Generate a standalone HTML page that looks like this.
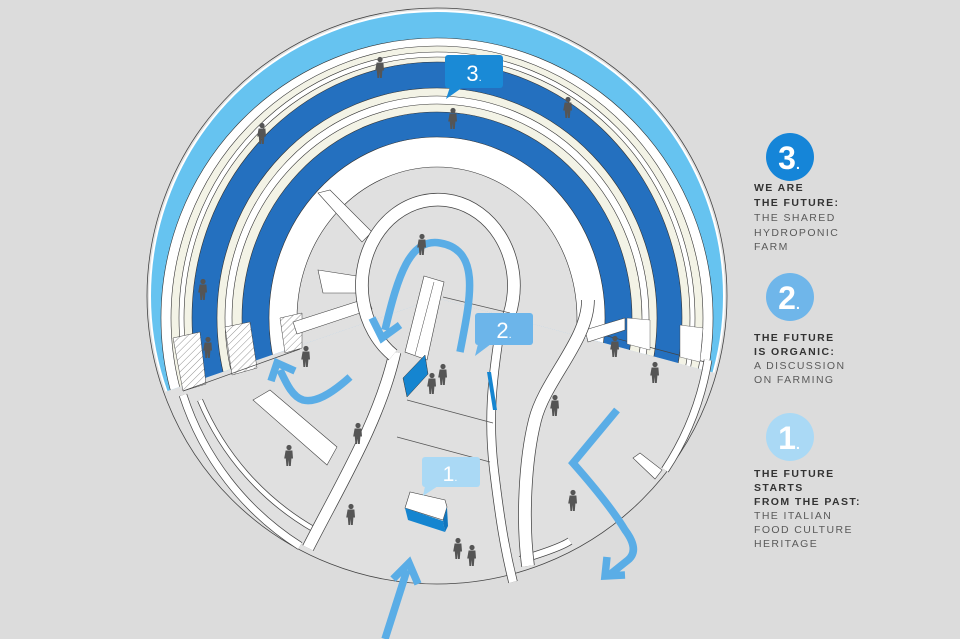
<!DOCTYPE html>
<html><head><meta charset="utf-8"><style>
html,body{margin:0;padding:0;background:#dcdcdc;}
svg{display:block;}
.lg{font-family:"Liberation Sans Narrow","Liberation Sans",sans-serif;font-size:10.5px;letter-spacing:1.4px;}
.b{fill:#333;font-weight:bold;}
.n{fill:#5a5a5a;}
.num{font-family:"Liberation Sans Narrow","Liberation Sans",sans-serif;fill:#fff;}
.big{font-weight:bold;}
</style></head><body>
<svg width="960" height="639" viewBox="0 0 960 639" xmlns="http://www.w3.org/2000/svg">
<defs>
<clipPath id="sec"><polygon points="437,298 830,404 830,-20 40,-20 40,435"/></clipPath>
<pattern id="hat" width="5" height="5" patternUnits="userSpaceOnUse" patternTransform="rotate(45)">
<rect width="5" height="5" fill="#fff"/><line x1="0" y1="0" x2="0" y2="5" stroke="#666" stroke-width="0.7"/></pattern>
<symbol id="p" viewBox="-6 -22 12 22" overflow="visible">
<circle cx="0" cy="-18.5" r="2.6" fill="#555"/>
<path d="M-3.4,-15.5 h6.8 l0.6,8 h-1.6 l-0.6,7.5 h-1.8 l-0.4,-6 l-0.4,6 h-1.8 l-0.6,-7.5 h-1.6z" fill="#555"/>
</symbol>
</defs>
<rect width="960" height="639" fill="#dcdcdc"/>

<ellipse cx="437" cy="296" rx="290" ry="288" fill="#e0e0e0" stroke="#444" stroke-width="0.8"/>

<g clip-path="url(#sec)" stroke="#333" stroke-width="0.6">
<ellipse cx="437" cy="296" rx="287" ry="285" fill="#66c3f0" stroke="#fff" stroke-width="2"/>
<ellipse cx="437" cy="318" rx="276" ry="280" fill="#fff"/>
<ellipse cx="437" cy="318" rx="266" ry="272" fill="#f3f3e6"/>
<ellipse cx="437" cy="318" rx="258" ry="266" fill="#fff"/>
<ellipse cx="437" cy="318" rx="253" ry="261" fill="#f3f3e6"/>
<ellipse cx="437" cy="318" rx="245" ry="256" fill="#2470bf"/>
<ellipse cx="437" cy="318" rx="220" ry="230" fill="#f3f3e6"/>
<ellipse cx="437" cy="318" rx="212" ry="222" fill="#fff"/>
<ellipse cx="437" cy="318" rx="205" ry="214" fill="#f3f3e6"/>
<ellipse cx="437" cy="318" rx="195" ry="206" fill="#2470bf"/>
<ellipse cx="437" cy="318" rx="168" ry="181" fill="#fff"/>
<ellipse cx="437" cy="318" rx="140" ry="151" fill="#e0e0e0"/>
</g>
<polygon points="173,338 200,332 206,384 183,391" fill="url(#hat)" stroke="#444" stroke-width="0.5"/>
<polygon points="225,327 250,322 257,368 232,375" fill="url(#hat)" stroke="#444" stroke-width="0.5"/>
<polygon points="280,318 302,313 302,348 285,353" fill="url(#hat)" stroke="#444" stroke-width="0.5"/>
<line x1="183" y1="391" x2="300" y2="349" stroke="#444" stroke-width="0.7"/>
<line x1="592" y1="332" x2="705" y2="362" stroke="#444" stroke-width="0.7"/>
<polygon points="627,318 650,320 650,350 627,344" fill="#fff" stroke="#444" stroke-width="0.4"/>
<polygon points="680,325 703,328 700,362 680,357" fill="#fff" stroke="#444" stroke-width="0.4"/>

<g fill="none" stroke-linecap="butt">
<path d="M183,395 A282,282 0 0 0 300,546" stroke="#444" stroke-width="8.5"/>
<path d="M183,395 A282,282 0 0 0 300,546" stroke="#fff" stroke-width="7"/>
<path d="M200,400 A268,268 0 0 0 315,530" stroke="#444" stroke-width="6"/>
<path d="M200,400 A268,268 0 0 0 315,530" stroke="#fff" stroke-width="4.5"/>
<path d="M708,360 A282,282 0 0 1 665,470" stroke="#444" stroke-width="8.5"/>
<path d="M708,360 A282,282 0 0 1 665,470" stroke="#fff" stroke-width="7"/>
<path d="M570,541 Q560,548 520,560" stroke="#444" stroke-width="8"/>
<path d="M570,541 Q560,548 520,560" stroke="#fff" stroke-width="6.5"/>
</g>

<polygon points="293,322 368,298 372,309 297,334" fill="#fff" stroke="#444" stroke-width="0.6"/>
<polygon points="318,193 330,190 372,232 362,242" fill="#fff" stroke="#444" stroke-width="0.6"/>
<polygon points="318,270 363,277 363,293 323,293" fill="#fff" stroke="#444" stroke-width="0.6"/>
<polygon points="585,330 625,318 625,330 588,342" fill="#fff" stroke="#444" stroke-width="0.6"/>

<g fill="none">
<path d="M395,352 C380,420 340,485 308,548" stroke="#444" stroke-width="12.5"/>
<path d="M395,352 C380,420 340,485 308,548" stroke="#fff" stroke-width="11"/>
<path d="M500,330 C492,380 488,420 494,470 S505,550 513,582" stroke="#444" stroke-width="9.5"/>
<path d="M500,330 C492,380 488,420 494,470 S505,550 513,582" stroke="#fff" stroke-width="8"/>
<path d="M588,300 C588,340 545,380 535,420 C525,460 522,520 528,566" stroke="#444" stroke-width="13.5"/>
<path d="M588,300 C588,340 545,380 535,420 C525,460 522,520 528,566" stroke="#fff" stroke-width="12"/>
<path d="M393,355 A76,86 0 1 1 503,330" stroke="#444" stroke-width="13.5"/>
<path d="M393,355 A76,86 0 1 1 503,330" stroke="#fff" stroke-width="12"/>
</g>
<g stroke="#555" stroke-width="0.7">
<line x1="407" y1="400" x2="493" y2="423"/>
<line x1="397" y1="437" x2="490" y2="462"/>
<line x1="443" y1="297" x2="510" y2="313"/>
</g>

<polygon points="424,276 444,282 427,360 405,352" fill="#fff" stroke="#444" stroke-width="0.6"/>
<line x1="434" y1="282" x2="415" y2="355" stroke="#444" stroke-width="0.5"/>
<polygon points="403,378 425,355 428,374 407,397" fill="#1585d0" stroke="#333" stroke-width="0.5"/>
<polygon points="487,372 491,372 497,410 493,410" fill="#1585d0"/>

<polygon points="253,400 270,390 337,447 327,465" fill="#fff" stroke="#444" stroke-width="0.6"/>
<polygon points="633,458 640,453 662,470 655,479" fill="#fff" stroke="#444" stroke-width="0.6"/>

<polygon points="405,508 410,492 445,500 447,507 443,520" fill="#fff" stroke="#444" stroke-width="0.6"/>
<polygon points="405,508 443,521 445,532 408,520" fill="#1585d0"/>
<polygon points="443,521 447,507 448,526 445,532" fill="#1176be"/>

<g fill="none" stroke="#5aade6" stroke-width="7.5" stroke-linejoin="miter">
<path d="M460,352 C470,300 482,250 440,243 C410,238 398,275 385,330"/>
<polyline points="372,318 382,338 400,325"/>
<path d="M350,377 C330,395 315,403 303,400 C293,397 287,385 280,370"/>
<polyline points="271,381 277,363 295,371"/>
<path d="M385,639 L407,570"/>
<polyline points="393,579 409,563 418,584"/>
<path d="M617,410 L573,463 Q610,505 625,530 Q640,550 628,560 L608,576"/>
<polyline points="607,557 605,576 625,575"/>
</g>

<rect x="445" y="55" width="58" height="33" rx="3" fill="#1a8ad6"/>
<polygon points="450,87 463,87 446,99" fill="#1a8ad6"/>
<text x="474" y="81" class="num" font-size="22" text-anchor="middle">3<tspan font-size="11">.</tspan></text>
<rect x="475" y="313" width="58" height="32" rx="3" fill="#6cb5ea"/>
<polygon points="478,344 491,344 475,356" fill="#6cb5ea"/>
<text x="504" y="338" class="num" font-size="22" text-anchor="middle">2<tspan font-size="11">.</tspan></text>
<rect x="422" y="457" width="58" height="30" rx="3" fill="#aad9f5"/>
<polygon points="425,486 438,486 423,496" fill="#aad9f5"/>
<text x="450" y="481" class="num" font-size="21" text-anchor="middle">1<tspan font-size="11">.</tspan></text>

<g>
<use href="#p" x="374" y="56" width="12" height="22"/>
<use href="#p" x="256" y="122" width="12" height="22"/>
<use href="#p" x="562" y="94" width="12" height="26"/>
<use href="#p" x="447" y="106" width="12" height="24"/>
<use href="#p" x="416" y="232" width="12" height="24"/>
<use href="#p" x="197" y="276" width="12" height="26"/>
<use href="#p" x="202" y="334" width="12" height="26"/>
<use href="#p" x="609" y="334" width="12" height="24"/>
<use href="#p" x="649" y="358" width="12" height="28"/>
<use href="#p" x="300" y="344" width="12" height="24"/>
<use href="#p" x="426" y="372" width="12" height="22"/>
<use href="#p" x="437" y="362" width="12" height="24"/>
<use href="#p" x="352" y="422" width="12" height="22"/>
<use href="#p" x="283" y="444" width="12" height="22"/>
<use href="#p" x="345" y="500" width="12" height="28"/>
<use href="#p" x="452" y="535" width="12" height="26"/>
<use href="#p" x="466" y="542" width="12" height="26"/>
<use href="#p" x="567" y="488" width="12" height="24"/>
<use href="#p" x="549" y="394" width="12" height="22"/>
</g>

<circle cx="790" cy="157" r="24" fill="#1585d8"/>
<text x="789" y="169" class="num big" font-size="32" text-anchor="middle">3<tspan font-size="14">.</tspan></text>
<circle cx="790" cy="297" r="24" fill="#6fb6ea"/>
<text x="789" y="309" class="num big" font-size="32" text-anchor="middle">2<tspan font-size="14">.</tspan></text>
<circle cx="790" cy="437" r="24" fill="#aad9f5"/>
<text x="789" y="449" class="num big" font-size="32" text-anchor="middle">1<tspan font-size="14">.</tspan></text>

<g class="lg">
<text x="754" y="191" class="b">WE ARE</text>
<text x="754" y="206" class="b">THE FUTURE:</text>
<text x="754" y="221" class="n">THE SHARED</text>
<text x="754" y="236" class="n">HYDROPONIC</text>
<text x="754" y="250" class="n">FARM</text>
<text x="754" y="341" class="b">THE FUTURE</text>
<text x="754" y="355" class="b">IS ORGANIC:</text>
<text x="754" y="369" class="n">A DISCUSSION</text>
<text x="754" y="383" class="n">ON FARMING</text>
<text x="754" y="477" class="b">THE FUTURE</text>
<text x="754" y="491" class="b">STARTS</text>
<text x="754" y="505" class="b">FROM THE PAST:</text>
<text x="754" y="519" class="n">THE ITALIAN</text>
<text x="754" y="533" class="n">FOOD CULTURE</text>
<text x="754" y="547" class="n">HERITAGE</text>
</g>
</svg>
</body></html>
